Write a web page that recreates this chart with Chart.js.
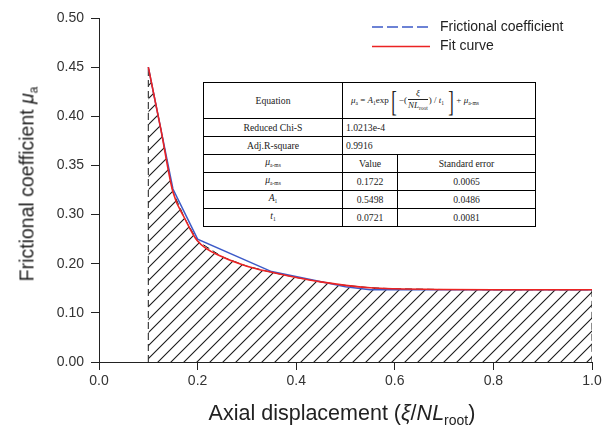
<!DOCTYPE html>
<html>
<head>
<meta charset="utf-8">
<script src="https://cdn.jsdelivr.net/npm/chart.js@4/dist/chart.umd.min.js"></script>
<style>
  body { margin: 0; background: #fff; }
  #wrap { position: relative; width: 606px; height: 435px; font-family: "Liberation Sans", Arial, sans-serif; }
  #myChart { position: absolute; left: 0; top: 0; }
  .axTitle { position: absolute; white-space: nowrap; color: #222; font-size: 19.5px; }
  .axTitle sub { font-size: 12px; vertical-align: -4px; }
  #yTitle { left: 28px; top: 184px; transform: translate(-50%, -50%) rotate(-90deg); }
  #xTitle { left: 342px; top: 414px; transform: translate(-50%, -50%); font-size: 21.5px; }
  #xTitle sub { font-size: 14px; vertical-align: -5px; }
  #fitTable { position: absolute; left: 203px; top: 82px; border-collapse: collapse; table-layout: fixed;
    font-family: "Liberation Serif", "Times New Roman", serif; font-size: 9.7px; color: #222; background: #fff; }
  #fitTable td { border: 1px solid #000; height: 17px; padding: 0 3px; text-align: center; line-height: 10px; }
  #fitTable td.l { text-align: left; }
  #fitTable td.eq { height: 35px; text-align: left; font-size: 9px; padding-left: 8px; }
  #fitTable sub { font-size: 5.5px; vertical-align: -2px; }
  .frac { display: inline-block; vertical-align: middle; text-align: center; padding: 0 1px; }
  .frac span { display: block; line-height: 11px; }
  .frac .top { border-bottom: 0.8px solid #222; }
  .br { font-size: 30px; font-weight: 100; vertical-align: -8px; transform: scaleX(0.55); display: inline-block; }
</style>
</head>
<body>
<div id="wrap">
  <canvas id="myChart" width="606" height="435"></canvas>
  <div class="axTitle" id="yTitle">Frictional coefficient <i>μ</i><sub>a</sub></div>
  <div class="axTitle" id="xTitle">Axial displacement (<i>ξ</i>/<i>NL</i><sub>root</sub>)</div>
  <table id="fitTable">
    <colgroup><col style="width:139px"><col style="width:55px"><col style="width:138px"></colgroup>
    <tr><td>Equation</td><td class="eq" colspan="2"><i>μ</i><sub>a</sub> = <i>A</i><sub>1</sub>exp<span class="br">[</span>−(<span class="frac"><span class="top"><i>ξ</i></span><span><i>NL</i><sub>root</sub></span></span>) / <i>t</i><sub>1</sub> <span class="br">]</span>+ <i>μ</i><sub>a-ms</sub></td></tr>
    <tr><td>Reduced Chi-S</td><td class="l" colspan="2">1.0213e-4</td></tr>
    <tr><td>Adj.R-square</td><td class="l" colspan="2">0.9916</td></tr>
    <tr><td><i>μ</i><sub>a-ms</sub></td><td>Value</td><td>Standard error</td></tr>
    <tr><td><i>μ</i><sub>a-ms</sub></td><td>0.1722</td><td>0.0065</td></tr>
    <tr><td><i>A</i><sub>1</sub></td><td>0.5498</td><td>0.0486</td></tr>
    <tr><td><i>t</i><sub>1</sub></td><td>0.0721</td><td>0.0081</td></tr>
  </table>
</div>
<script>
// measured series (xi/NL_root vs mu_a)
const fricX = [0.1, 0.15, 0.2, 0.35, 0.5, 0.55, 0.6, 0.7, 0.8, 0.9, 1.0];
const fricY = [0.45, 0.326, 0.25, 0.184, 0.153, 0.147, 0.147, 0.147, 0.147, 0.147, 0.147];

// fitted curve
const fitX = [0.1, 0.125, 0.15, 0.175, 0.2, 0.25, 0.3, 0.35, 0.4, 0.45, 0.5, 0.55, 0.6, 0.7, 0.8, 0.9, 1.0];
const fitY = [0.45, 0.388, 0.323, 0.29, 0.246, 0.214, 0.195, 0.1825, 0.172, 0.163, 0.156, 0.151, 0.149, 0.1475, 0.147, 0.147, 0.147];

// y axis is broken: 0-0.3 in steps of 0.1, then 0.3-0.5 in steps of 0.05
const yTickLabels = ['0.00', '0.10', '0.20', '0.30', '0.35', '0.40', '0.45', '0.50'];
const xTickStep = 0.2;

function toAxis(v) {
    return v <= 0.3 ? v / 0.1 : 3 + (v - 0.3) / 0.05;
}

function pts(xs, ys) {
    return xs.map((x, i) => ({ x: x, y: toAxis(ys[i]) }));
}

// hatched region under the fit, closed down to zero at both ends
let hatchPts = [{ x: fitX[0], y: 0 }].concat(pts(fitX, fitY));
hatchPts.push({ x: fitX[fitX.length - 1], y: 0 });

function makeHatch() {
    let c = document.createElement('canvas');
    c.width = 13;
    c.height = 13;
    let g = c.getContext('2d');
    g.strokeStyle = '#1a1a1a';
    g.lineWidth = 1.1;
    g.beginPath();
    g.moveTo(-1, 14); g.lineTo(14, -1);
    g.moveTo(-1, 1); g.lineTo(1, -1);
    g.moveTo(12, 14); g.lineTo(14, 12);
    g.stroke();
    return g.createPattern(c, 'repeat');
}

const legendPlugin = {
    id: 'lineLegend',
    afterDraw(chart) {
        const ctx = chart.ctx;
        let row = 0;
        ctx.save();
        chart.data.datasets.forEach(ds => {
            if (!ds.label) return;
            let y = 27 + row * 19.5;
            ctx.strokeStyle = ds.borderColor;
            ctx.lineWidth = 1.5;
            ctx.setLineDash(ds.legendDash || []);
            ctx.beginPath();
            ctx.moveTo(372, y);
            ctx.lineTo(430, y);
            ctx.stroke();
            ctx.setLineDash([]);
            ctx.fillStyle = '#222';
            ctx.font = '14px "Liberation Sans", Arial, sans-serif';
            ctx.textBaseline = 'middle';
            ctx.fillText(ds.label, 440, y);
            row++;
        });
        ctx.restore();
    }
};

const tickFont = { family: '"Liberation Sans", Arial, sans-serif', size: 14 };

let ctx = document.getElementById('myChart');
let chart = new Chart(ctx, {
    type: 'line',
    data: {
        datasets: [
            {
                label: 'Frictional coefficient',
                data: pts(fricX, fricY),
                borderColor: 'rgb(60, 90, 200)',
                borderWidth: 1.5,
                legendDash: [11, 4],
                pointRadius: 0,
                fill: false,
                order: 1
            },
            {
                label: 'Fit curve',
                data: pts(fitX, fitY),
                borderColor: 'rgb(235, 35, 35)',
                borderWidth: 1.6,
                cubicInterpolationMode: 'monotone',
                pointRadius: 0,
                fill: false,
                order: 0
            },
            {
                label: '',
                data: hatchPts,
                borderColor: '#1a1a1a',
                borderWidth: 1,
                borderDash: [7, 4],
                backgroundColor: makeHatch(),
                pointRadius: 0,
                fill: 'origin',
                order: 2
            }
        ]
    },
    options: {
        responsive: false,
        animation: false,
        layout: { padding: { top: 18, right: 14, left: 0, bottom: 0 } },
        plugins: {
            legend: { display: false },
            tooltip: { enabled: false }
        },
        scales: {
            x: {
                type: 'linear',
                min: 0,
                max: 1,
                afterFit: s => { s.height = 73; },
                ticks: {
                    stepSize: xTickStep,
                    callback: v => v.toFixed(1),
                    font: tickFont,
                    color: '#333',
                    padding: 3,
                    maxRotation: 0
                },
                grid: { drawOnChartArea: false, tickLength: 8, color: '#222' },
                border: { color: '#222', width: 1 }
            },
            y: {
                type: 'linear',
                min: 0,
                max: 7,
                afterFit: s => { s.width = 99; },
                ticks: {
                    stepSize: 1,
                    callback: v => yTickLabels[v],
                    font: tickFont,
                    color: '#333',
                    padding: 7
                },
                grid: { drawOnChartArea: false, tickLength: 8, color: '#222' },
                border: { color: '#222', width: 1 }
            }
        }
    },
    plugins: [legendPlugin]
});
</script>
</body>
</html>
